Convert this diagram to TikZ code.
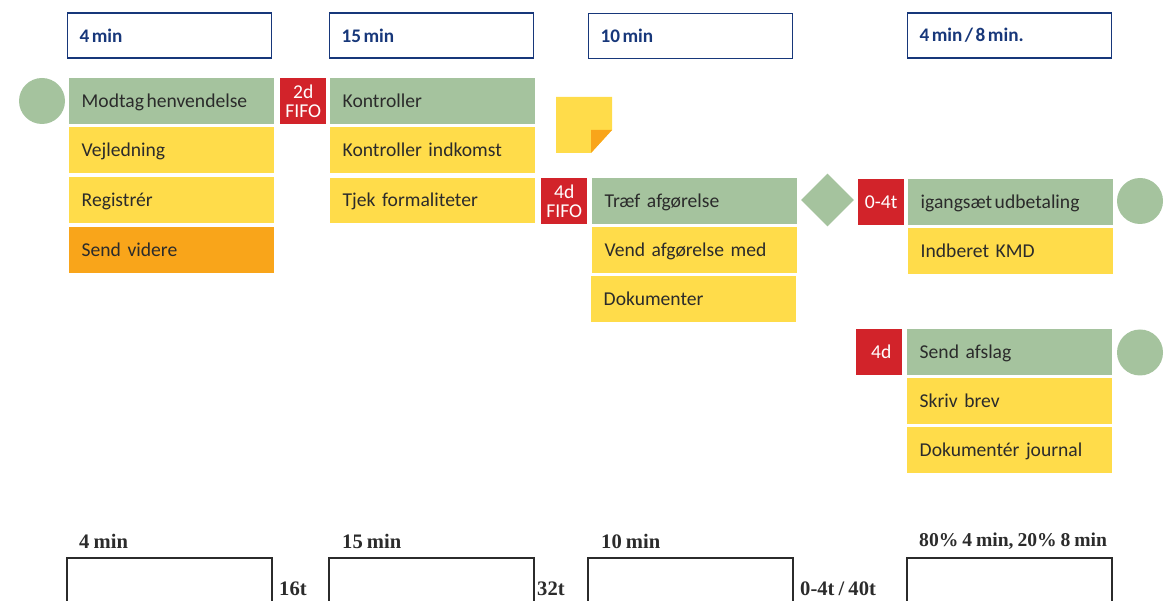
\documentclass[tikz,border=0pt]{standalone}
\usepackage{fontspec}
\setmainfont{Carlito}
\newfontfamily\serifbold[WordSpace=0.8]{Liberation Serif}
\usetikzlibrary{shapes.geometric}
\definecolor{stepgreen}{HTML}{A5C39E}
\definecolor{stepyellow}{HTML}{FFDC4A}
\definecolor{steporange}{HTML}{F9A51A}
\definecolor{waitred}{HTML}{D2232A}
\definecolor{timenavy}{HTML}{17377A}
\definecolor{leadgray}{HTML}{2B2B2B}
\newcommand\tightwords{\spaceskip 2.5pt\relax}
\tikzset{
  stepbox/.style={anchor=north west,minimum height=46pt,text width=180pt,inner xsep=12.5pt,inner ysep=0pt,text height=16.5pt,text depth=4pt,align=left,text=leadgray,font=\fontsize{19.6}{22}\selectfont},
  tightword/.style={execute at begin node=\tightwords},
  waitbox/.style={anchor=north west,fill=waitred,minimum width=46pt,minimum height=46pt,inner sep=0pt,align=center,text=white,font=\fontsize{19.6}{19}\selectfont},
  timebox/.style={anchor=north west,draw=timenavy,line width=1.2pt,minimum width=204pt,minimum height=45pt,text width=180pt,inner xsep=12pt,inner ysep=0pt,align=left,text=timenavy,font=\fontsize{19.2}{22}\selectfont\bfseries,tightword},
  endcircle/.style={circle,fill=stepgreen,minimum size=46pt,inner sep=0pt},
  leadtext/.style={anchor=west,inner sep=0pt,text=leadgray,font=\serifbold\fontsize{20.6}{22}\selectfont\bfseries},
  leadbox/.style={draw=leadgray,line width=1.1pt}
}
\begin{document}
\begin{tikzpicture}[x=1pt,y=-1pt]
\useasboundingbox (0,0) rectangle (1165,601);
% time boxes
\node[timebox] (timea) at (67,12.5) {4 min};
\node[timebox] (timeb) at (329,12.5) {15 min};
\node[timebox] (timec) at (588,13) {10 min};
\node[timebox] (timed) at (907,12.5) {4 min / 8 min.};
% first column
\node[endcircle] (starta) at (42,101) {};
\node[stepbox,tightword,fill=stepgreen] (modtag) at (69,78) {Modtag henvendelse};
\node[stepbox,fill=stepyellow] (vejledning) at (69,127) {Vejledning};
\node[stepbox,fill=stepyellow] (registrer) at (69,177) {Registrér};
\node[stepbox,fill=steporange] (sendvidere) at (69,227) {Send videre};
\node[waitbox] (waita) at (280,78) {2d\\FIFO};
% second column
\node[stepbox,fill=stepgreen] (kontroller) at (330,78) {Kontroller};
\node[stepbox,fill=stepyellow] (indkomst) at (330,127) {Kontroller indkomst};
\node[stepbox,fill=stepyellow,minimum height=45pt] (formalia) at (330,178) {Tjek formaliteter};
\node[waitbox] (waitb) at (541,178) {4d\\FIFO};
% note
\fill[stepyellow] (556,97) -- (612,97) -- (612,130) -- (591,153) -- (556,153) -- cycle;
\fill[steporange] (591,130) -- (612,130) -- (591,153) -- cycle;
% third column
\node[stepbox,fill=stepgreen] (afgorelse) at (592,178) {Træf afgørelse};
\node[stepbox,fill=stepyellow] (vend) at (592,227) {Vend afgørelse med};
\node[stepbox,fill=stepyellow] (dokumenter) at (591,276) {Dokumenter};
\node[diamond,aspect=1,fill=stepgreen,minimum size=53pt,inner sep=0pt] (valg) at (827.5,200) {};
% fourth column
\node[waitbox] (waitc) at (858,179) {0-4t};
\node[stepbox,tightword,fill=stepgreen] (igangsaet) at (908,179) {igangsæt udbetaling};
\node[stepbox,fill=stepyellow] (indberet) at (908,228) {Indberet KMD};
\node[endcircle] (endb) at (1140,201) {};
\node[waitbox] (waitd) at (856,329) {\hspace*{4pt}4d};
\node[stepbox,fill=stepgreen] (afslag) at (907,329) {Send afslag};
\node[stepbox,fill=stepyellow] (brev) at (907,378) {Skriv brev};
\node[stepbox,fill=stepyellow] (journal) at (907,427) {Dokumentér journal};
\node[endcircle] (endc) at (1140,352.5) {};
% lead time row
\node[leadtext] (leada) at (79,541) {4 min};
\node[leadtext] (leadb) at (342,541) {15 min};
\node[leadtext] (leadc) at (601,541) {10 min};
\node[leadtext,font=\serifbold\fontsize{19.6}{22}\selectfont\bfseries] (leadd) at (919,541) {80\% 4 min, 20\% 8 min};
\draw[leadbox] (67,601) |- (272,558) -- (272,601);
\draw[leadbox] (329,601) |- (534,558) -- (534,601);
\draw[leadbox] (588,601) |- (793,558) -- (793,601);
\draw[leadbox] (907,601) |- (1112,558) -- (1112,601);
\node[leadtext] (gapa) at (279,589) {16t};
\node[leadtext] (gapb) at (537,589) {32t};
\node[leadtext] (gapc) at (800,589) {0-4t / 40t};
\end{tikzpicture}
\end{document}
